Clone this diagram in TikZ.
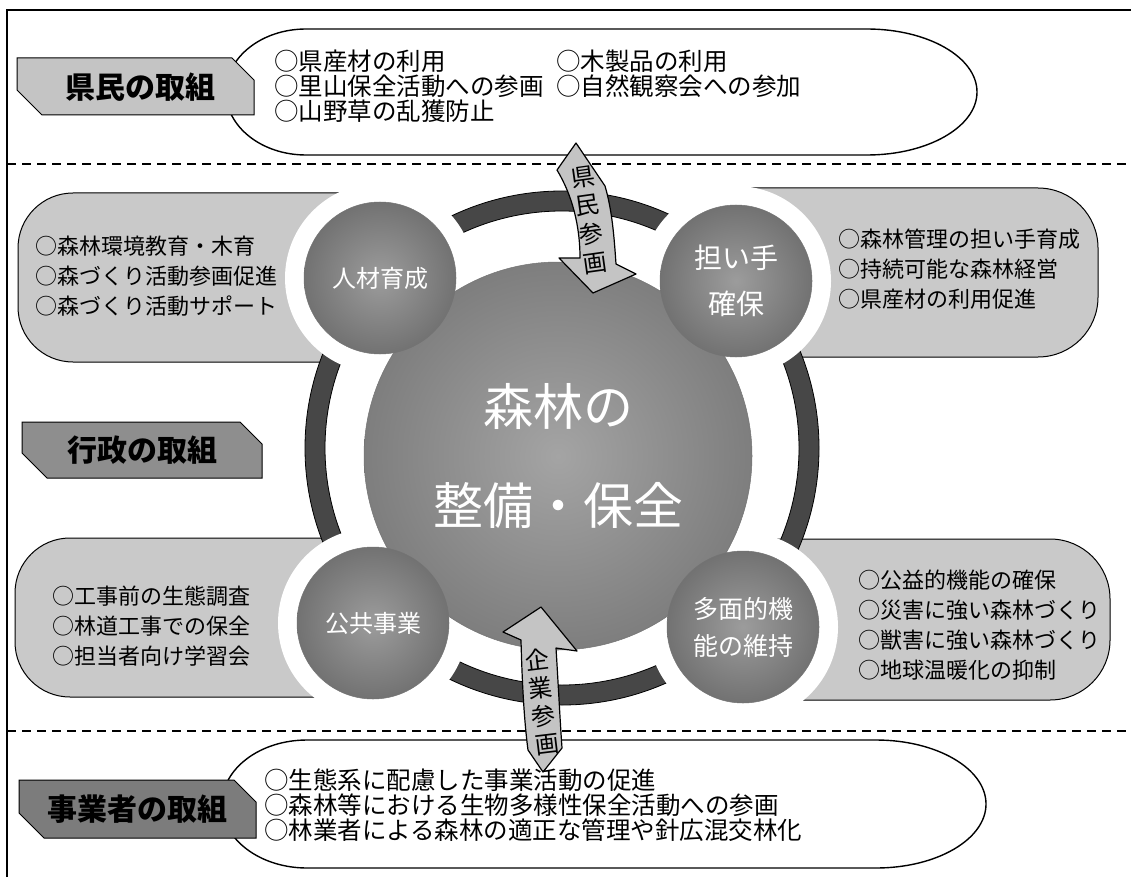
\documentclass[tikz,border=0pt]{standalone}
\usepackage{fontspec}
\setmainfont{Noto Sans CJK JP}
\definecolor{pale}{HTML}{C4C4C4}
\definecolor{capgray}{HTML}{C9C9C9}
\definecolor{midgray}{HTML}{8E8E8E}
\definecolor{darkband}{HTML}{7C7C7C}
\definecolor{ringgray}{HTML}{474747}
\definecolor{discin}{HTML}{A4A4A4}
\definecolor{discout}{HTML}{7E7E7E}
\definecolor{knobin}{HTML}{9C9C9C}
\definecolor{knobout}{HTML}{727272}

\begin{document}
\begin{tikzpicture}[x=1pt, y=-1pt,
    banner/.style={draw=black, line width=1pt},
    tag/.style={font=\bfseries\fontsize{30}{30}\selectfont, inner sep=0pt},
    bubble/.style={draw=black, line width=1.4pt, fill=white},
    capsule/.style={draw=black, line width=1pt, fill=capgray},
    halo/.style={fill=white},
    ring/.style={fill=ringgray, draw=black, line width=0.8pt, even odd rule},
    divider/.style={dash pattern=on 9pt off 6pt, line width=1.2pt},
    hub/.style={circle, inner sep=0pt, minimum size=388pt, draw=black!55,
        line width=0.5pt, inner color=discin, outer color=discout,
        text=white, align=center},
    knob/.style={circle, inner sep=0pt, minimum size=152pt, draw=black!55,
        line width=0.5pt, inner color=knobin, outer color=knobout,
        text=white, align=center},
    blockarrow/.style={fill=pale, draw=black, line width=1.2pt, line join=round},
    items/.style={anchor=west, align=left, inner sep=0pt},
    bigitems/.style={items, font=\fontsize{24.5}{25}\selectfont},
    smallitems/.style={items, font=\fontsize{22}{30}\selectfont}
]
    \useasboundingbox (0,0) rectangle (1131,877);
    \draw[line width=1.3pt] (7,877) -- (7,10) -- (1131,10);
    \draw[divider] (7,164) -- (1131,164);
    \draw[divider] (7,731) -- (1131,731);

    \draw[bubble] (306,29) -- (867,29)
        arc[start angle=-90, end angle=90, x radius=110, y radius=63]
        -- (306,155) arc[start angle=90, end angle=270, x radius=80, y radius=63] -- cycle;
    \draw[bubble] (307,740) -- (876,740)
        arc[start angle=-90, end angle=90, x radius=110, y radius=64]
        -- (307,868) arc[start angle=90, end angle=270, x radius=85, y radius=64] -- cycle;

    \draw[capsule] (400,193) -- (73,193) arc[start angle=270, end angle=180, radius=55]
        -- (18,307) arc[start angle=180, end angle=90, radius=55] -- (400,362) -- cycle;
    \draw[capsule] (740,188) -- (1038,188) arc[start angle=-90, end angle=0, radius=60]
        -- (1098,297) arc[start angle=0, end angle=90, radius=60] -- (740,357) -- cycle;
    \draw[capsule] (400,538) -- (70,538) arc[start angle=270, end angle=180, radius=55]
        -- (15,642) arc[start angle=180, end angle=90, radius=55] -- (400,697) -- cycle;
    \draw[capsule] (760,539) -- (1050,539) arc[start angle=-90, end angle=0, radius=60]
        -- (1110,640) arc[start angle=0, end angle=90, radius=60] -- (760,700) -- cycle;

    \coordinate (axis) at (562,448);
    \draw[ring] (axis) circle[radius=257] (axis) circle[radius=237];

    \fill[halo] (380,278) circle[radius=95];
    \fill[halo] (736,281) circle[radius=95];
    \fill[halo] (373,623) circle[radius=95];
    \fill[halo] (743,627) circle[radius=95];

    \node[hub, font=\fontsize{50}{99}\selectfont] (core) at (558,456) {森林の\\整備・保全};
    \node[knob, font=\fontsize{24}{24}\selectfont] (talent) at (380,278) {人材育成};
    \node[knob, font=\fontsize{28}{46}\selectfont] (bearer) at (736,281) {担い手\\確保};
    \node[knob, font=\fontsize{24}{24}\selectfont] (works) at (373,623) {公共事業};
    \node[knob, font=\fontsize{25}{37}\selectfont] (multi) at (743,627) {多面的機\\能の維持};

    \draw[blockarrow] (576,143) -- (557,170) .. controls (572,195) and (580,225) .. (580,258)
        -- (559,258) -- (593,293) -- (636,274) -- (616,264)
        .. controls (614,235) and (612,210) .. (605,186) -- cycle;
    \node[font=\fontsize{24}{29}\selectfont, align=center, rotate=8, inner sep=0pt]
        (citizen) at (589,220) {県\\民\\参\\画};
    \draw[blockarrow] (541,607) -- (503,632) -- (521,640) .. controls (522,680) and (524,720) .. (528,750)
        -- (543,772) -- (562,748) .. controls (560,720) and (558,680) .. (556,648)
        -- (577,651) -- cycle;
    \node[font=\fontsize{24}{28}\selectfont, align=center, rotate=7, inner sep=0pt]
        (company) at (542,702) {企\\業\\参\\画};

    \node[bigitems] (kenlist) at (274,86) {○県産材の利用\\○里山保全活動への参画\\○山野草の乱獲防止};
    \node[bigitems] (kenlist2) at (556,73.5) {○木製品の利用\\○自然観察会への参加};
    \node[bigitems] (jigyolist) at (264,805) {○生態系に配慮した事業活動の促進\\○森林等における生物多様性保全活動への参画\\○林業者による森林の適正な管理や針広混交林化};

    \node[smallitems] (talentlist) at (35,276) {○森林環境教育・木育\\○森づくり活動参画促進\\○森づくり活動サポート};
    \node[smallitems] (bearerlist) at (838,269) {○森林管理の担い手育成\\○持続可能な森林経営\\○県産材の利用促進};
    \node[smallitems] (workslist) at (52,626) {○工事前の生態調査\\○林道工事での保全\\○担当者向け学習会};
    \node[smallitems] (multilist) at (858,625) {○公益的機能の確保\\○災害に強い森林づくり\\○獣害に強い森林づくり\\○地球温暖化の抑制};

    \draw[banner, fill=pale] (17,58) -- (232,58) -- (254,80) -- (254,115) -- (42,115) -- (17,90) -- cycle;
    \node[tag] (kenmin) at (140,87) {県民の取組};
    \draw[banner, fill=midgray] (22,422) -- (240,422) -- (262,444) -- (262,478) -- (47,478) -- (22,453) -- cycle;
    \node[tag] (gyosei) at (142,450) {行政の取組};
    \draw[banner, fill=darkband] (19,780) -- (234,780) -- (256,802) -- (256,838) -- (44,838) -- (19,813) -- cycle;
    \node[tag] (jigyo) at (137,809) {事業者の取組};
\end{tikzpicture}
\end{document}
